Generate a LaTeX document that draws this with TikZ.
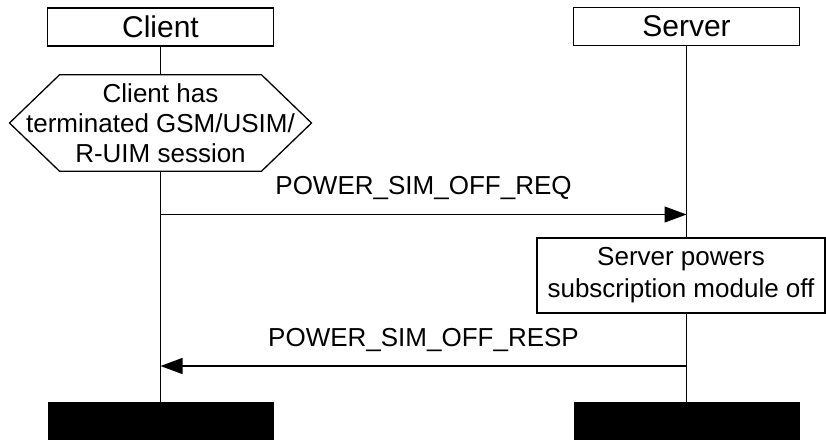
\documentclass[tikz,border=0pt]{standalone}
\usepackage{fontspec}
\setmainfont{Liberation Sans}
\usetikzlibrary{arrows.meta, positioning, calc}

\begin{document}
\begin{tikzpicture}[x=1pt, y=-1pt,
  head/.style={draw, line width=1.3pt, minimum width=226pt, minimum height=38pt,
               inner sep=0pt, font=\fontsize{30}{36}\selectfont},
  endbox/.style={fill=black, minimum width=226pt, minimum height=38pt, inner sep=0pt},
  action/.style={draw, line width=1.3pt, minimum width=288pt, minimum height=75pt,
                 inner sep=0pt, align=center, font=\fontsize{26}{32}\selectfont},
  lifeline/.style={line width=1.3pt},
  msg/.style={line width=1.3pt, -{Triangle[length=22pt, width=16pt]}},
  lbl/.style={above=14pt, inner sep=0pt, font=\fontsize{26}{30}\selectfont},
]
  \useasboundingbox (0,0) rectangle (826,439);

  % instances
  \node[head] (client) at (160.5,27) {Client};
  \node[head] (server) at (686.5,26.5) {Server};
  \node[endbox] (cend) at (160.5,421) {};
  \node[endbox] (send) at (686.5,421) {};

  % condition on client side
  \node[minimum height=96pt, inner sep=0pt, align=center,
        font=\fontsize{26}{30}\selectfont] (state) at (160.5,123) {
    Client has\\
    terminated GSM/USIM/\\
    R-UIM session
  };
  \draw[line width=1.3pt] ($(state.north)+(-101,0)$) -- ($(state.north)+(101,0)$)
    -- ($(state.center)+(151,0)$) -- ($(state.south)+(101,0)$)
    -- ($(state.south)+(-101,0)$) -- ($(state.center)+(-151,0)$) -- cycle;

  % action on server side
  \node[action] (act) at (681,275.5) {
    Server powers\\
    subscription module off
  };

  % lifelines
  \draw[lifeline] (client.south) -- (state.north);
  \draw[lifeline] (state.south) -- (cend.north);
  \draw[lifeline] (server.south) -- (server.south |- act.north);
  \draw[lifeline] (server.south |- act.south) -- (send.north);

  % messages
  \draw[msg] (client.south |- 0,214.5) -- node[lbl] {POWER\_SIM\_OFF\_REQ} (server.south |- 0,214.5);
  \draw[msg] (server.south |- 0,366) -- node[lbl] {POWER\_SIM\_OFF\_RESP} (client.south |- 0,366);
\end{tikzpicture}
\end{document}
